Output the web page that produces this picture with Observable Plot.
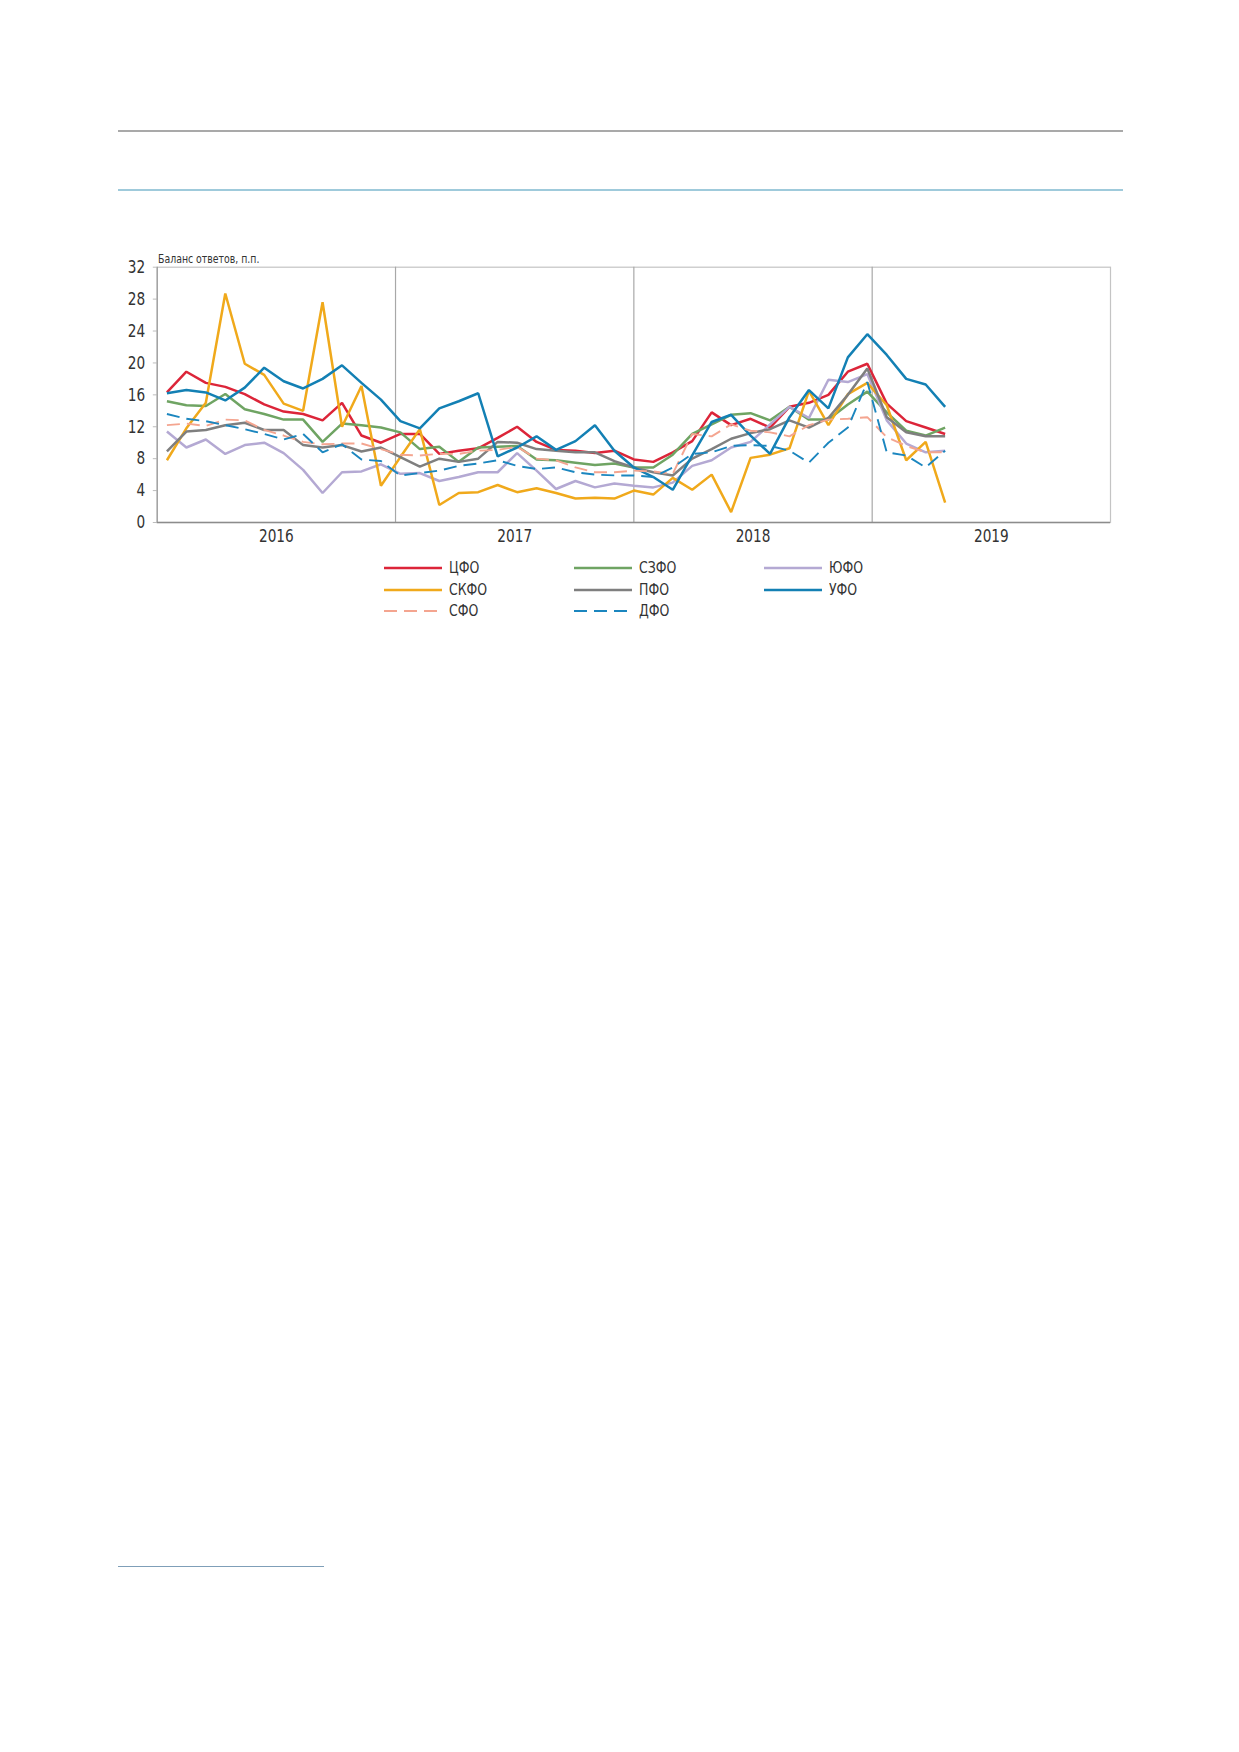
<!DOCTYPE html>
<html><head><meta charset="utf-8">
<script src="https://cdn.jsdelivr.net/npm/d3@7"></script>
<script src="https://cdn.jsdelivr.net/npm/@observablehq/plot@0.6"></script>
<style>
body{margin:0;background:#fff;}
#page{position:relative;width:1239px;height:1752px;font-family:"DejaVu Sans",sans-serif;color:#333;}
.hl{position:absolute;height:1.5px;}
#chart{position:absolute;left:0;top:230px;}
#ytitle{position:absolute;left:158px;top:253px;font-size:12px;line-height:1;color:#333;transform:scaleX(0.78);transform-origin:left top;white-space:nowrap;}
.li{position:absolute;display:flex;align-items:center;font-size:16px;color:#333;line-height:1;}
.li svg{margin-right:7px;}
.li span{display:inline-block;transform:scaleX(0.78);transform-origin:left center;}
</style></head>
<body><div id="page">
<div class="hl" style="left:118px;top:130px;width:1005px;background:#a9a9a9;"></div>
<div class="hl" style="left:118px;top:189px;width:1005px;background:#9fcadb;"></div>
<div class="hl" style="left:118px;top:1566px;width:206px;height:1px;background:#7f9fb8;"></div>
<div id="ytitle">Баланс ответов, п.п.</div>
<div id="chart"></div>
<div id="legend"></div>
</div>
<script>
// categories: Jan 2016 .. May 2019 (41 months), axis has 49 category slots
const months = d3.utcMonths(new Date(Date.UTC(2016,0,1)), new Date(Date.UTC(2019,5,1))).map(d => d3.utcFormat("%Y-%m")(d));
const nSlots = 49;
const yearLabels = ["2016", "2017", "2018", "2019"];
const yTicks = [0, 4, 8, 12, 16, 20, 24, 28, 32];

const cfo  = [16.3,18.9,17.5,17.0,16.1,14.8,13.9,13.6,12.8,15.0,10.9,10.0,11.1,11.1,8.6,9.0,9.3,10.6,12.0,10.1,9.1,9.0,8.7,9.0,7.9,7.6,8.8,10.2,13.8,12.2,13.0,11.9,14.5,15.0,16.0,18.9,19.9,14.9,12.7,11.9,11.1];
const szfo = [15.2,14.7,14.6,16.1,14.2,13.6,12.9,12.9,10.1,12.4,12.2,11.9,11.3,9.2,9.5,7.6,9.4,9.5,9.6,7.9,7.8,7.5,7.2,7.4,6.9,6.9,8.5,11.1,12.3,13.5,13.7,12.8,14.5,12.9,12.9,14.8,16.4,13.8,11.5,10.9,11.9];
const yufo = [11.4,9.4,10.4,8.6,9.7,10.0,8.7,6.6,3.7,6.3,6.4,7.3,6.1,6.2,5.2,5.7,6.3,6.3,8.7,6.5,4.2,5.2,4.4,4.9,4.6,4.4,5.0,7.1,7.8,9.4,10.1,12.3,14.5,13.1,17.9,17.6,18.6,12.8,9.9,8.8,9.0];
const skfo = [7.8,11.8,15.0,28.7,19.9,18.5,14.9,14.0,27.6,12.0,17.1,4.6,8.2,11.7,2.2,3.7,3.8,4.7,3.8,4.3,3.7,3.0,3.1,3.0,4.0,3.5,5.6,4.1,6.0,1.3,8.1,8.5,9.3,16.5,12.2,16.1,17.5,14.7,7.8,10.1,2.5];
const pfo  = [8.9,11.4,11.6,12.2,12.5,11.6,11.6,9.7,9.4,9.7,8.9,9.4,8.2,7.0,8.0,7.6,8.0,10.1,10.0,9.2,9.0,8.8,8.8,7.7,6.9,6.3,5.9,8.0,9.2,10.5,11.2,11.7,12.8,11.9,13.1,16.0,19.3,13.2,11.3,10.8,10.8];
const ufo  = [16.2,16.6,16.3,15.3,16.9,19.4,17.7,16.8,18.0,19.7,17.5,15.4,12.7,11.8,14.3,15.2,16.2,8.3,9.4,10.8,9.1,10.2,12.2,9.0,6.9,5.7,4.1,8.4,12.6,13.5,10.9,8.6,13.2,16.6,14.3,20.7,23.6,21.0,18.0,17.3,14.5];
const sfo  = [12.2,12.4,12.1,12.9,12.8,11.6,10.9,10.1,9.8,9.9,9.9,9.2,8.5,8.4,8.6,8.6,9.0,9.1,9.5,8.0,7.8,6.9,6.3,6.3,6.5,6.4,6.1,11.1,10.8,12.3,11.5,11.3,10.8,12.2,12.9,13.0,13.2,10.7,9.6,8.8,8.8];
const dfo  = [13.6,13.0,12.7,12.2,11.7,11.1,10.4,11.1,8.8,9.8,7.9,7.7,5.9,6.2,6.5,7.1,7.4,7.8,7.1,6.7,6.9,6.3,6.0,5.9,5.9,5.7,6.9,8.6,8.8,9.6,9.7,9.6,9.0,7.5,10.0,11.9,17.6,8.8,8.4,6.9,9.0];

const series = [
  {name:"ЦФО",  values:cfo,  color:"#dc2539", dash:null},
  {name:"СЗФО", values:szfo, color:"#6fa463", dash:null},
  {name:"ЮФО",  values:yufo, color:"#b4a9d3", dash:null},
  {name:"СКФО", values:skfo, color:"#f0a91b", dash:null},
  {name:"ПФО",  values:pfo,  color:"#7f7f7f", dash:null},
  {name:"УФО",  values:ufo,  color:"#1380b4", dash:null},
  {name:"СФО",  values:sfo,  color:"#f4a590", dash:"13,7"},
  {name:"ДФО",  values:dfo,  color:"#1b86bf", dash:"13,7"}
];

const font = '"DejaVu Sans",sans-serif';
const slotsPerYear = nSlots / 4;
const lineMarks = series.map(s => Plot.line(s.values.map((v, i) => ({i, v, m: months[i]})), {
  x: d => d.i + 0.5, y: "v", stroke: s.color,
  strokeWidth: s.dash ? 1.9 : 2.5, strokeDasharray: s.dash || undefined,
  strokeLinejoin: "miter", strokeLinecap: "butt"
}));

const chart = Plot.plot({
  width: 1239, height: 330,
  marginLeft: 156.7, marginRight: 129, marginTop: 36.7, marginBottom: 38,
  style: {fontFamily: font, background: "transparent", overflow: "visible"},
  x: {type: "linear", domain: [0, nSlots], axis: null},
  y: {type: "linear", domain: [0, 32], axis: null},
  marks: [
    Plot.frame({stroke: "#c4c4c4", strokeWidth: 1.2}),
    Plot.ruleX([1, 2, 3].map(k => k * slotsPerYear), {stroke: "#a8a8a8", strokeWidth: 1.2}),
    Plot.ruleY(yTicks, {y: d => d, x1: -0.2, x2: 0, stroke: "#bdbdbd"}),
    Plot.text(yTicks, {y: d => d, x: 0, dx: -12, textAnchor: "end", text: d => String(d), fontSize: 18, fill: "#333"}),
    Plot.text(yearLabels, {x: (d, i) => slotsPerYear * (i + 0.5), y: 0, dy: 14, text: d => d, fontSize: 18, fill: "#333", lineAnchor: "middle"}),
    ...lineMarks,
    Plot.ruleY([0], {stroke: "#8c8c8c", strokeWidth: 1.3}),
    Plot.ruleX([0], {stroke: "#9a9a9a", strokeWidth: 1.2})
  ]
});
// condense the text glyphs horizontally (narrow font look)
d3.select(chart).selectAll("text").each(function() {
  const el = d3.select(this);
  const t = el.attr("transform");
  if (t) {
    el.attr("transform", t + " scale(0.76,1)");
    if (el.attr("dx")) el.attr("dx", +el.attr("dx") / 0.76);
  }
});
document.getElementById("chart").appendChild(chart);

// legend
const legendPos = [[384,568],[574,568],[764,568],[384,589.5],[574,589.5],[764,589.5],[384,611],[574,611]];
const leg = document.getElementById("legend");
series.forEach((s, k) => {
  const [lx, ly] = legendPos[k];
  const div = document.createElement("div");
  div.className = "li";
  div.style.left = lx + "px";
  div.style.top = (ly - 8) + "px";
  div.style.height = "16px";
  div.innerHTML = `<svg width="58" height="8"><line x1="0" y1="4" x2="58" y2="4" stroke="${s.color}" stroke-width="${s.dash ? 1.9 : 2.5}" ${s.dash ? `stroke-dasharray="${s.dash}"` : ""}/></svg><span>${s.name}</span>`;
  leg.appendChild(div);
});
</script>
</body></html>
